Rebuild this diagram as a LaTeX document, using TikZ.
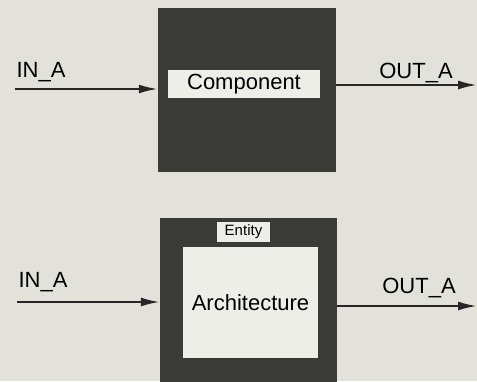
\documentclass[tikz,border=0pt]{standalone}
\usepackage{fontspec}
\setmainfont{Liberation Sans}
\usetikzlibrary{arrows.meta}
\definecolor{paper}{RGB}{226,226,219}
\definecolor{dark}{RGB}{58,58,54}
\definecolor{pale}{RGB}{238,238,232}

\begin{document}
\begin{tikzpicture}[x=1pt,y=-1pt,
  blockbox/.style={fill=dark,inner sep=0pt},
  labelbox/.style={fill=pale,inner sep=0pt,font=\fontsize{22}{25}\selectfont},
  sig/.style={line width=2.2pt,draw=black!85,-{Latex[length=19pt,width=9pt]}},
  siglabel/.style={font=\fontsize{22}{25}\selectfont,inner sep=0pt}]
\useasboundingbox[fill=paper] (0,0) rectangle (477,381);
\clip (0,0) rectangle (477,381);
% top: component
\node[blockbox,minimum width=178pt,minimum height=164pt] (comp) at (247,90) {};
\node[labelbox,minimum width=152pt,minimum height=28pt] (complabel) at (244,84) {Component};
\coordinate (inA) at (15,89);
\coordinate (outA) at (477,85);
\draw[sig] (inA) -- (inA -| comp.west);
\draw[sig] (comp.east |- outA) -- (outA);
\node[siglabel] (inAtxt) at (41,72) {IN\_A};
\node[siglabel] (outAtxt) at (416,73) {OUT\_A};
% bottom: entity with architecture inside
\node[blockbox,minimum width=177pt,minimum height=175pt] (ent) at (248.5,305.5) {};
\node[labelbox,minimum width=135pt,minimum height=111pt] (arch) at (250.5,302.5) {Architecture};
\node[labelbox,font=\fontsize{15}{17}\selectfont,minimum width=53pt,minimum height=20pt] (enttag) at (243.5,232) {Entity};
\coordinate (inB) at (17,302);
\coordinate (outB) at (477,306);
\draw[sig] (inB) -- (inB -| ent.west);
\draw[sig] (ent.east |- outB) -- (outB);
\node[siglabel] (inBtxt) at (43,282) {IN\_A};
\node[siglabel] (outBtxt) at (419,288) {OUT\_A};
\end{tikzpicture}
\end{document}
